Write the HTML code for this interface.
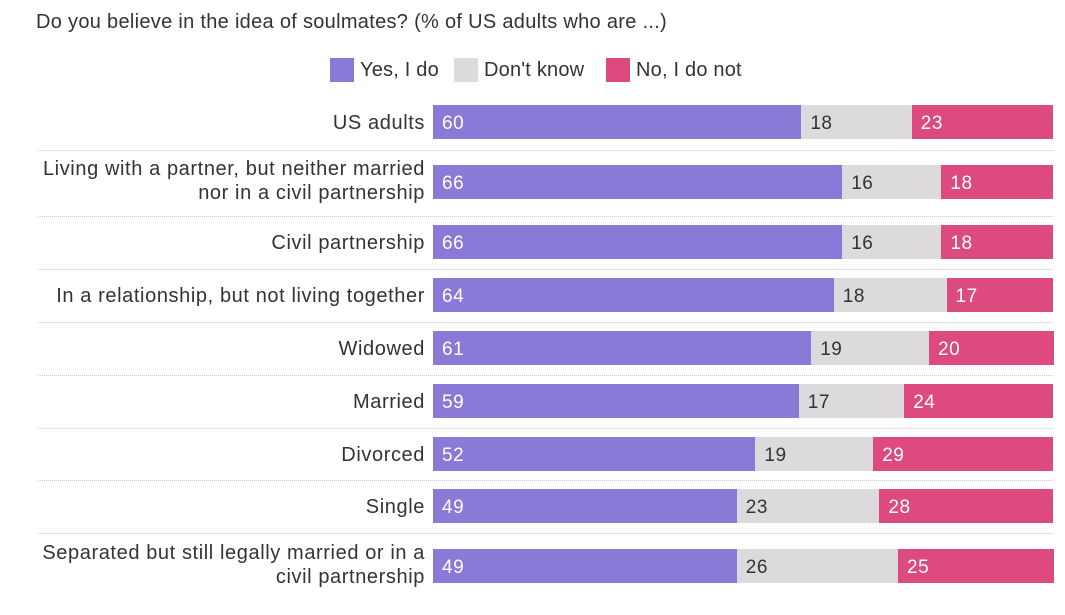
<!DOCTYPE html>
<html><head><meta charset="utf-8"><style>
body{margin:0;width:1065px;height:615px;background:#fff;font-family:"Liberation Sans",sans-serif;color:#333;position:relative;overflow:hidden}
.a{position:absolute;white-space:nowrap}
.lab{position:absolute;right:640px;text-align:right;font-size:20px;letter-spacing:0.6px;line-height:24px;color:#333;white-space:nowrap}
.seg{position:absolute;height:34px;font-size:19px;letter-spacing:0.5px;line-height:37px;box-sizing:border-box;padding-left:9px}
.sep{position:absolute;left:38px;width:1015px;border-top:1px dotted #c8c8c8;height:0}
.sq{position:absolute;top:58px;width:24px;height:24px}
.lg{position:absolute;top:59px;font-size:20px;letter-spacing:0.2px;white-space:nowrap}
</style></head><body>
<div class="a" style="left:36px;top:11px;font-size:20px;letter-spacing:0.3px;color:#333">Do you believe in the idea of soulmates? (% of US adults who are ...)</div>
<div class="sq" style="left:330px;background:#8a79d6"></div><div class="lg" style="left:360px">Yes, I do</div>
<div class="sq" style="left:454px;background:#dcdadc"></div><div class="lg" style="left:484px">Don't know</div>
<div class="sq" style="left:606px;background:#dd4a80"></div><div class="lg" style="left:636px">No, I do not</div>
<div id="c"></div>
<script>
var rows=[["US adults",60,18,23,105],["Living with a partner, but neither married<br>nor in a civil partnership",66,16,18,165],["Civil partnership",66,16,18,225],["In a relationship, but not living together",64,18,17,278],["Widowed",61,19,20,331],["Married",59,17,24,384],["Divorced",52,19,29,437],["Single",49,23,28,489],["Separated but still legally married or in a<br>civil partnership",49,26,25,549]];
var seps=[150,216,269,322,375,428,480,533];
var h="";
rows.forEach(function(r){
 var two=r[0].indexOf("<br>")>=0;
 h+='<div class="lab" style="top:'+(two?r[4]-8:r[4]+6)+'px">'+r[0]+'</div>';
 var s=r[1]+r[2]+r[3],x=433,W=620;
 var cols=["#8a79d6","#dcdadc","#dd4a80"],tc=["#fff","#333","#fff"];
 for(var i=0;i<3;i++){var w=W*r[i+1]/s;
  h+='<div class="seg" style="left:'+x+'px;top:'+r[4]+'px;width:'+(w+0.5)+'px;background:'+cols[i]+';color:'+tc[i]+'">'+r[i+1]+'</div>';x+=w;}
});
seps.forEach(function(y){h+='<div class="sep" style="top:'+y+'px"></div>'});
document.getElementById("c").innerHTML=h;
</script>
</body></html>
